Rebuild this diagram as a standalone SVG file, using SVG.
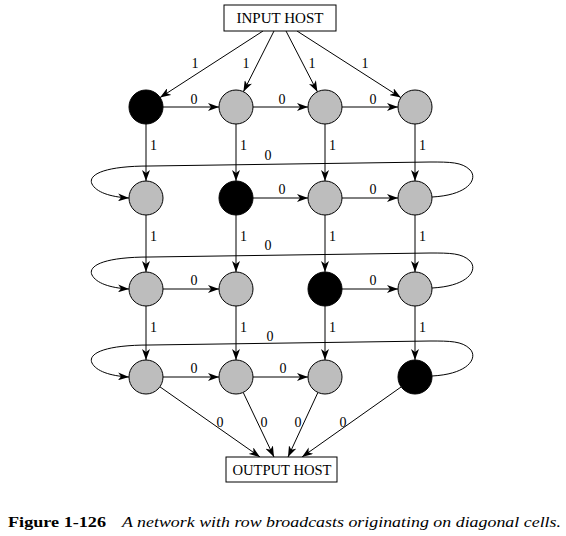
<svg xmlns="http://www.w3.org/2000/svg" width="566" height="536" viewBox="0 0 566 536">
<defs>
<marker id="ah" markerUnits="userSpaceOnUse" markerWidth="12" markerHeight="8" refX="11" refY="4" orient="auto">
<path d="M0,0 L11,4 L0,8 L3,4 Z" fill="#000"/>
</marker>
<style>
.e{fill:none;stroke:#000;stroke-width:1;marker-end:url(#ah)}
.g{fill:#bdbdbd;stroke:#000;stroke-width:1}
.b{fill:#000;stroke:#000;stroke-width:1}
.box{fill:#fff;stroke:#000;stroke-width:1}
text{font-family:"Liberation Serif","DejaVu Serif","Times New Roman",serif;fill:#000}
.t{font-size:14px;text-anchor:middle}
.l{font-size:14px}
</style>
</defs>
<rect width="566" height="536" fill="#fff"/>
<g id="connectors">
<line class="e" x1="263" y1="31" x2="160" y2="97.6"/>
<line class="e" x1="274" y1="31" x2="243.4" y2="91.7"/>
<line class="e" x1="286" y1="31" x2="317.4" y2="91.8"/>
<line class="e" x1="297" y1="31" x2="400.8" y2="97.6"/>
<line class="e" x1="163" y1="107" x2="219" y2="107"/>
<line class="e" x1="253" y1="107" x2="308" y2="107"/>
<line class="e" x1="342" y1="107" x2="398" y2="107"/>
<line class="e" x1="146" y1="124" x2="146" y2="181"/>
<line class="e" x1="236" y1="124" x2="236" y2="181"/>
<line class="e" x1="325" y1="124" x2="325" y2="181"/>
<line class="e" x1="415" y1="124" x2="415" y2="181"/>
<line class="e" x1="253" y1="198" x2="308" y2="198"/>
<line class="e" x1="342" y1="198" x2="398" y2="198"/>
<path class="e" d="M432,197 C470,195 478,178 470,170 C462,162 450,162 430,162 L150,166 C100,166 88,176 92,184 C96,192 110,197 129,198"/>
<line class="e" x1="146" y1="215" x2="146" y2="272"/>
<line class="e" x1="236" y1="215" x2="236" y2="272"/>
<line class="e" x1="325" y1="215" x2="325" y2="272"/>
<line class="e" x1="415" y1="215" x2="415" y2="272"/>
<line class="e" x1="163" y1="289" x2="219" y2="289"/>
<line class="e" x1="342" y1="289" x2="398" y2="289"/>
<path class="e" d="M432,288 C470,286 478,269 470,261 C462,253 450,253 430,253 L150,257 C100,257 88,267 92,275 C96,283 110,288 129,289"/>
<line class="e" x1="146" y1="306" x2="146" y2="360"/>
<line class="e" x1="236" y1="306" x2="236" y2="360"/>
<line class="e" x1="325" y1="306" x2="325" y2="360"/>
<line class="e" x1="415" y1="306" x2="415" y2="360"/>
<line class="e" x1="163" y1="377" x2="219" y2="377"/>
<line class="e" x1="253" y1="377" x2="308" y2="377"/>
<path class="e" d="M432,376 C470,374 478,357 470,349 C462,341 450,341 430,341 L150,345 C100,345 88,355 92,363 C96,371 110,376 129,377"/>
<line class="e" x1="159.9" y1="386.8" x2="260" y2="457"/>
<line class="e" x1="243.2" y1="392.4" x2="274" y2="457"/>
<line class="e" x1="317.9" y1="392.5" x2="288" y2="457"/>
<line class="e" x1="401.2" y1="386.9" x2="302" y2="457"/>
</g>
<g id="labels">
<text class="t" x="195" y="68">1</text>
<text class="t" x="246" y="68">1</text>
<text class="t" x="312" y="68">1</text>
<text class="t" x="365" y="68">1</text>
<text class="t" x="194" y="104">0</text>
<text class="t" x="282" y="104">0</text>
<text class="t" x="373" y="104">0</text>
<text class="l" x="150" y="150">1</text>
<text class="l" x="240" y="150">1</text>
<text class="l" x="329" y="150">1</text>
<text class="l" x="419" y="150">1</text>
<text class="t" x="268" y="160">0</text>
<text class="t" x="282" y="194">0</text>
<text class="t" x="373" y="194">0</text>
<text class="l" x="150" y="241">1</text>
<text class="l" x="240" y="241">1</text>
<text class="l" x="329" y="241">1</text>
<text class="l" x="419" y="241">1</text>
<text class="t" x="268" y="250">0</text>
<text class="t" x="194" y="285">0</text>
<text class="t" x="373" y="285">0</text>
<text class="l" x="150" y="332">1</text>
<text class="l" x="240" y="332">1</text>
<text class="l" x="329" y="332">1</text>
<text class="l" x="419" y="332">1</text>
<text class="t" x="270" y="341">0</text>
<text class="t" x="194" y="373">0</text>
<text class="t" x="283" y="373">0</text>
<text class="t" x="220" y="427">0</text>
<text class="t" x="264" y="427">0</text>
<text class="t" x="298" y="427">0</text>
<text class="t" x="343" y="427">0</text>
</g>
<g id="input-host"><rect class="box" x="224" y="5" width="112" height="26"/><text class="t" x="280" y="23" style="font-size:15px" textLength="87" lengthAdjust="spacingAndGlyphs">INPUT HOST</text></g>
<g id="n11"><circle class="b" cx="146" cy="107" r="17"/></g>
<g id="n12"><circle class="g" cx="236" cy="107" r="17"/></g>
<g id="n13"><circle class="g" cx="325" cy="107" r="17"/></g>
<g id="n14"><circle class="g" cx="415" cy="107" r="17"/></g>
<g id="n21"><circle class="g" cx="146" cy="198" r="17"/></g>
<g id="n22"><circle class="b" cx="236" cy="198" r="17"/></g>
<g id="n23"><circle class="g" cx="325" cy="198" r="17"/></g>
<g id="n24"><circle class="g" cx="415" cy="198" r="17"/></g>
<g id="n31"><circle class="g" cx="146" cy="289" r="17"/></g>
<g id="n32"><circle class="g" cx="236" cy="289" r="17"/></g>
<g id="n33"><circle class="b" cx="325" cy="289" r="17"/></g>
<g id="n34"><circle class="g" cx="415" cy="289" r="17"/></g>
<g id="n41"><circle class="g" cx="146" cy="377" r="17"/></g>
<g id="n42"><circle class="g" cx="236" cy="377" r="17"/></g>
<g id="n43"><circle class="g" cx="325" cy="377" r="17"/></g>
<g id="n44"><circle class="b" cx="415" cy="377" r="17"/></g>
<g id="output-host"><rect class="box" x="226" y="457" width="111" height="25"/><text class="t" x="282" y="475" style="font-size:14px" textLength="99" lengthAdjust="spacingAndGlyphs">OUTPUT HOST</text></g>
<g id="caption">
<text x="8" y="527" font-size="15" font-weight="bold" textLength="98" lengthAdjust="spacingAndGlyphs">Figure 1-126</text>
<text x="122" y="527" font-size="14" font-style="italic" textLength="439" lengthAdjust="spacingAndGlyphs">A network with row broadcasts originating on diagonal cells.</text>
</g>
</svg>
